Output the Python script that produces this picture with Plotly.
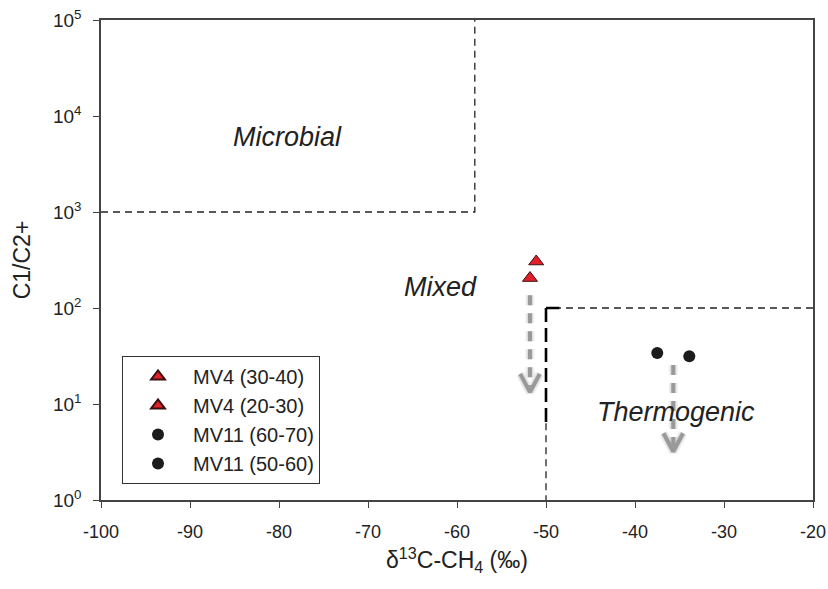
import numpy as np
import plotly.graph_objects as go

# Sample data: d13C-CH4 (permil) and C1/C2+ ratio
mv4_names = ["MV4 (30-40)", "MV4 (20-30)"]
mv4_d13c = [-51.1, -51.8]
mv4_ratio = [305, 205]

mv11_names = ["MV11 (60-70)", "MV11 (50-60)"]
mv11_d13c = [-37.5, -33.9]
mv11_ratio = [34, 31.5]

# Genetic field boundaries (Bernard diagram)
microbial_x = [-100, -58, -58]
microbial_y = [1000, 1000, 100000]
thermo_x = [-20, -50]
thermo_y = [100, 100]
thermo_v_thick_y = [100, 6.3]
thermo_v_thin_y = [6.3, 1]
thermo_v_x = -50

# Trend arrows (x, y start, y tip)
arrows = [(-51.8, 136, 13.3), (-35.7, 25.5, 3.2)]

x_ticks = [-100, -90, -80, -70, -60, -50, -40, -30, -20]
x_ticktext = ["%d" % v for v in x_ticks]
y_ticks = [1, 10, 100, 1000, 10000, 100000]
y_ticktext = ["10<sup>%d</sup>" % i for i in range(6)]

FONT = "Liberation Sans, Arial"
fig = go.Figure()

# Field boundaries
fig.add_trace(go.Scatter(x=microbial_x, y=microbial_y, mode="lines",
                         line=dict(color="#222222", width=1.3, dash="7px,5px"),
                         showlegend=False, hoverinfo="skip"))
fig.add_trace(go.Scatter(x=thermo_x, y=thermo_y, mode="lines",
                         line=dict(color="#222222", width=1.3, dash="7px,5px"),
                         showlegend=False, hoverinfo="skip"))
fig.add_trace(go.Scatter(x=[thermo_v_x, thermo_v_x], y=thermo_v_thick_y, mode="lines",
                         line=dict(color="#000000", width=2.6, dash="14px,6px"),
                         showlegend=False, hoverinfo="skip"))
fig.add_trace(go.Scatter(x=[thermo_v_x, -48.5], y=[100, 100], mode="lines",
                         line=dict(color="#000000", width=2.5),
                         showlegend=False, hoverinfo="skip"))
fig.add_trace(go.Scatter(x=[thermo_v_x, thermo_v_x], y=thermo_v_thin_y, mode="lines",
                         line=dict(color="#222222", width=1.3, dash="7px,5px"),
                         showlegend=False, hoverinfo="skip"))

# Gray dashed trend arrows with a soft halo
dx = 1.1     # chevron half-width in permil
dlog = 0.19  # chevron height in decades
for ax_, y0, y1 in arrows:
    shaft_end = 10 ** (np.log10(y1) + 0.05)
    head_x = [ax_ - dx, ax_, ax_ + dx]
    head_y = [10 ** (np.log10(y1) + dlog), y1, 10 ** (np.log10(y1) + dlog)]
    for width, color in [(9, "rgba(150,150,150,0.15)"), (6, "rgba(150,150,150,0.2)")]:
        fig.add_trace(go.Scatter(x=[ax_, ax_], y=[y0, shaft_end], mode="lines",
                                 line=dict(color=color, width=width, dash="10px,8px"),
                                 showlegend=False, hoverinfo="skip"))
        fig.add_trace(go.Scatter(x=head_x, y=head_y, mode="lines",
                                 line=dict(color=color, width=width),
                                 showlegend=False, hoverinfo="skip"))
    fig.add_trace(go.Scatter(x=[ax_, ax_], y=[y0, shaft_end], mode="lines",
                             line=dict(color="#999999", width=4, dash="10px,8px"),
                             showlegend=False, hoverinfo="skip"))
    fig.add_trace(go.Scatter(x=head_x, y=head_y, mode="lines",
                             line=dict(color="#999999", width=4),
                             showlegend=False, hoverinfo="skip"))

# Samples
for name, xv, yv in zip(mv4_names, mv4_d13c, mv4_ratio):
    fig.add_trace(go.Scatter(x=[xv], y=[yv], mode="markers", name=name,
                             marker=dict(symbol="triangle-up", size=13, color="#e3202a",
                                         line=dict(color="#3a1010", width=1))))
for name, xv, yv in zip(mv11_names, mv11_d13c, mv11_ratio):
    fig.add_trace(go.Scatter(x=[xv], y=[yv], mode="markers", name=name,
                             marker=dict(symbol="circle", size=12, color="#1c1c1c",
                                         line=dict(color="#1c1c1c", width=0))))

# Field labels
labels = [("Microbial", -79.1, 3.78), ("Mixed", -61.9, 2.22), ("Thermogenic", -35.4, 0.917)]
for txt, lx, ly in labels:
    fig.add_annotation(x=lx, y=ly, text="<i>%s</i>" % txt, showarrow=False,
                       font=dict(family=FONT, size=27, color="#222222"))

axis_common = dict(showline=True, linecolor="#444444", linewidth=1.5, mirror=True,
                   ticks="outside", ticklen=6, tickcolor="#444444", tickwidth=1.2,
                   showgrid=False, zeroline=False, automargin=False)

fig.update_xaxes(range=[-100, -20], tickvals=x_ticks, ticktext=x_ticktext,
                 ticklabelstandoff=9,
                 tickfont=dict(family=FONT, size=18, color="#222222"),
                 title=dict(text="δ<sup>13</sup>C-CH<sub>4</sub> (‰)", standoff=11,
                            font=dict(family=FONT, size=23, color="#222222")),
                 **axis_common)
fig.update_yaxes(type="log", range=[0, 5], tickvals=y_ticks, ticktext=y_ticktext,
                 ticklabelstandoff=8,
                 tickfont=dict(family=FONT, size=19, color="#222222"),
                 title=dict(text="C1/C2+", standoff=16,
                            font=dict(family=FONT, size=23, color="#222222")),
                 **axis_common)

fig.update_layout(
    width=828, height=589,
    margin=dict(l=101, r=15, t=20, b=89),
    plot_bgcolor="white", paper_bgcolor="white",
    legend=dict(x=0.0295, y=0.3, xanchor="left", yanchor="top",
                bordercolor="#333333", borderwidth=1, bgcolor="white",
                font=dict(family=FONT, size=20, color="#222222"),
                itemsizing="constant", itemwidth=60, tracegroupgap=0),
    font=dict(family=FONT),
    showlegend=True,
)

fig.write_html("out.html")
